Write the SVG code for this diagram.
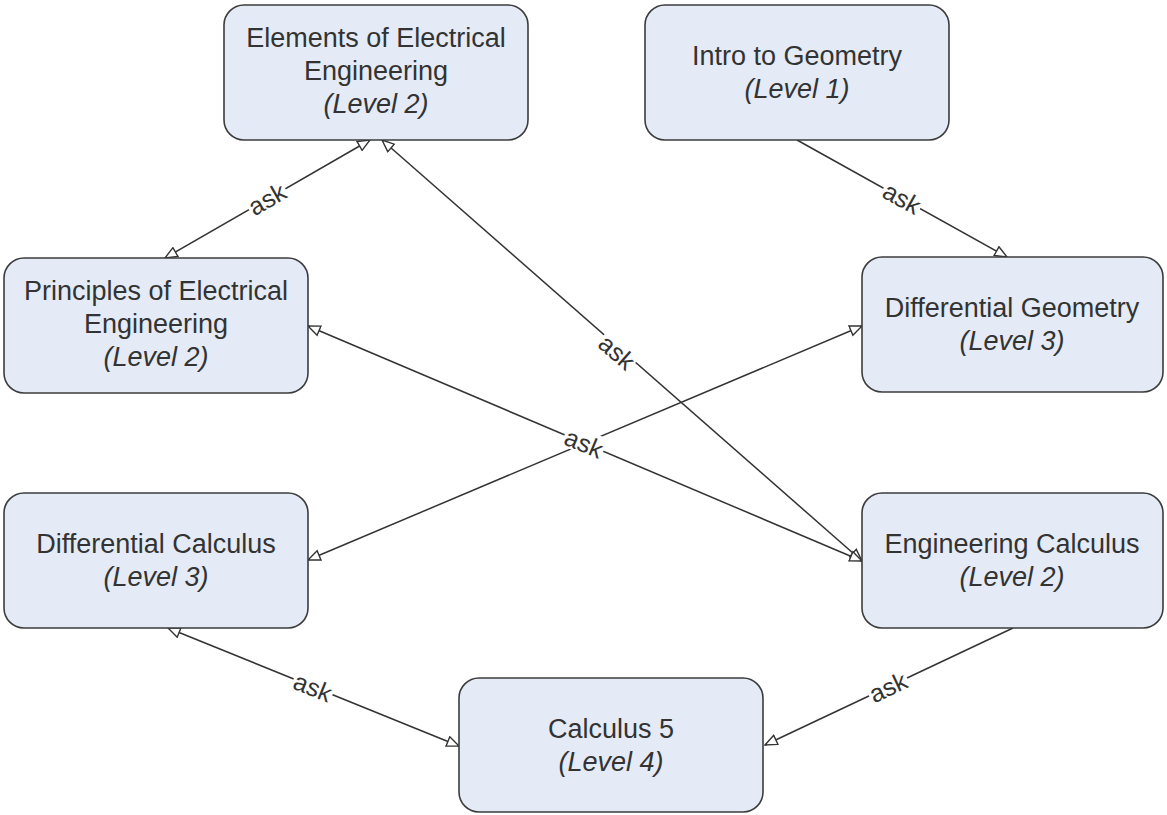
<svg xmlns="http://www.w3.org/2000/svg" width="1167" height="815" viewBox="0 0 1167 815">
  <style>
    .box { fill: #e4ebf6; stroke: #3c3c3c; stroke-width: 1.6; }
    .t { font-family: "Liberation Sans", Arial, sans-serif; font-size: 27px; fill: #333333; text-anchor: middle; }
    .lvl { font-style: italic; }
    .edge { fill: none; stroke: #333333; stroke-width: 1.5; }
    .lbl { font-family: "Liberation Sans", Arial, sans-serif; font-size: 25px; fill: #333333; text-anchor: middle; }
    .lblbg { fill: #ffffff; }
  </style>
  <defs>
    <marker id="tri" viewBox="0 0 14 12" refX="13" refY="6" markerWidth="14" markerHeight="12" markerUnits="userSpaceOnUse" orient="auto-start-reverse">
      <path d="M1,1 L13,6 L1,11 Z" fill="#ffffff" stroke="#333333" stroke-width="1.4"/>
    </marker>
  </defs>

  <rect width="1167" height="815" fill="#ffffff"/>

  <!-- connectors -->
  <g id="connectors">
    <line class="edge" x1="370" y1="140" x2="165" y2="258" marker-start="url(#tri)" marker-end="url(#tri)"/>
    <line class="edge" x1="382" y1="140" x2="862" y2="561" marker-start="url(#tri)" marker-end="url(#tri)"/>
    <line class="edge" x1="797" y1="140" x2="1007" y2="257" marker-end="url(#tri)"/>
    <line class="edge" x1="308" y1="326" x2="862" y2="561" marker-start="url(#tri)" marker-end="url(#tri)"/>
    <line class="edge" x1="308" y1="560" x2="862" y2="326" marker-start="url(#tri)" marker-end="url(#tri)"/>
    <line class="edge" x1="168" y1="628" x2="459" y2="746" marker-start="url(#tri)" marker-end="url(#tri)"/>
    <line class="edge" x1="1013" y1="628" x2="765" y2="745" marker-end="url(#tri)"/>

    <!-- edge labels -->
    <g transform="translate(267,199) rotate(-29.9)">
      <rect class="lblbg" x="-21" y="-13" width="42" height="24"/>
      <text class="lbl" x="0" y="9">ask</text>
    </g>
    <g transform="translate(617,352) rotate(41.3)">
      <rect class="lblbg" x="-21" y="-13" width="42" height="24"/>
      <text class="lbl" x="0" y="9">ask</text>
    </g>
    <g transform="translate(902,198) rotate(29.1)">
      <rect class="lblbg" x="-21" y="-13" width="42" height="24"/>
      <text class="lbl" x="0" y="9">ask</text>
    </g>
    <g transform="translate(584,443) rotate(23)">
      <rect class="lblbg" x="-21" y="-13" width="42" height="24"/>
      <text class="lbl" x="0" y="9">ask</text>
    </g>
    <g transform="translate(313,687) rotate(22.1)">
      <rect class="lblbg" x="-21" y="-13" width="42" height="24"/>
      <text class="lbl" x="0" y="9">ask</text>
    </g>
    <g transform="translate(888,687) rotate(-25)">
      <rect class="lblbg" x="-21" y="-13" width="42" height="24"/>
      <text class="lbl" x="0" y="9">ask</text>
    </g>
  </g>

  <!-- nodes -->
  <g id="elements-ee">
    <rect class="box" x="224" y="5" width="304" height="135" rx="20"/>
    <text class="t" x="376" y="47">Elements of Electrical</text>
    <text class="t" x="376" y="80">Engineering</text>
    <text class="t lvl" x="376" y="113">(Level 2)</text>
  </g>
  <g id="intro-geometry">
    <rect class="box" x="645" y="5" width="304" height="135" rx="20"/>
    <text class="t" x="797" y="65">Intro to Geometry</text>
    <text class="t lvl" x="797" y="98">(Level 1)</text>
  </g>
  <g id="principles-ee">
    <rect class="box" x="4" y="258" width="304" height="135" rx="20"/>
    <text class="t" x="156" y="300">Principles of Electrical</text>
    <text class="t" x="156" y="333">Engineering</text>
    <text class="t lvl" x="156" y="366">(Level 2)</text>
  </g>
  <g id="differential-geometry">
    <rect class="box" x="862" y="257" width="301" height="135" rx="20"/>
    <text class="t" x="1012" y="317">Differential Geometry</text>
    <text class="t lvl" x="1012" y="350">(Level 3)</text>
  </g>
  <g id="differential-calculus">
    <rect class="box" x="4" y="493" width="304" height="135" rx="20"/>
    <text class="t" x="156" y="553">Differential Calculus</text>
    <text class="t lvl" x="156" y="586">(Level 3)</text>
  </g>
  <g id="engineering-calculus">
    <rect class="box" x="862" y="493" width="301" height="135" rx="20"/>
    <text class="t" x="1012" y="553">Engineering Calculus</text>
    <text class="t lvl" x="1012" y="586">(Level 2)</text>
  </g>
  <g id="calculus-5">
    <rect class="box" x="459" y="678" width="304" height="134" rx="20"/>
    <text class="t" x="611" y="738">Calculus 5</text>
    <text class="t lvl" x="611" y="771">(Level 4)</text>
  </g>
</svg>
